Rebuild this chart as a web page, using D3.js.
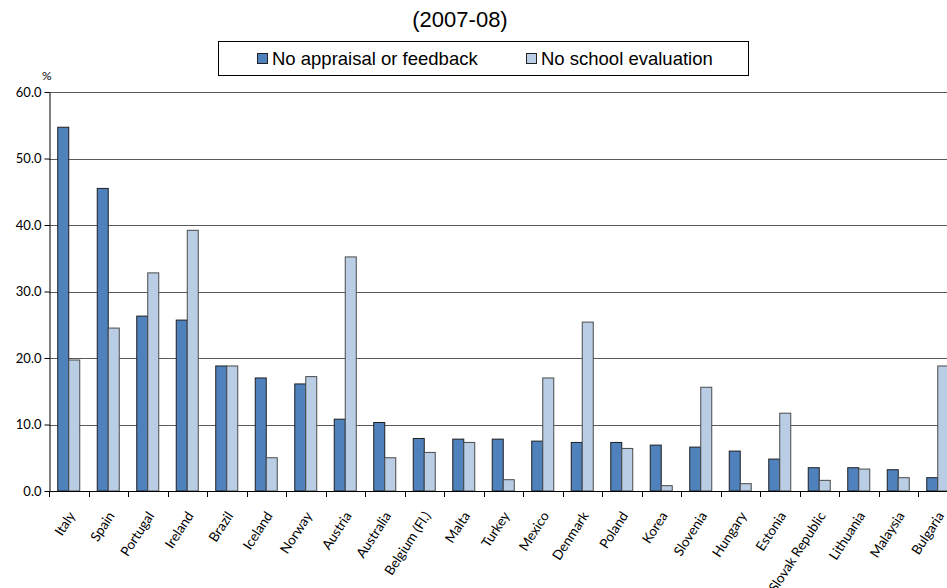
<!DOCTYPE html>
<html>
<head>
<meta charset="utf-8">
<script src="https://cdn.jsdelivr.net/npm/d3@7"></script>
<style>
  html, body { margin: 0; padding: 0; background: #fff; }
  svg { display: block; }
</style>
</head>
<body>
<svg id="chart" width="947" height="588"></svg>
<script>
// Countries, in chart order
const countries = ["Italy", "Spain", "Portugal", "Ireland", "Brazil", "Iceland", "Norway", "Austria",
  "Australia", "Belgium (Fl.)", "Malta", "Turkey", "Mexico", "Denmark", "Poland", "Korea",
  "Slovenia", "Hungary", "Estonia", "Slovak Republic", "Lithuania", "Malaysia", "Bulgaria"];

// Share of teachers (%) by situation
const noAppraisal = [54.7, 45.5, 26.3, 25.7, 18.8, 17.0, 16.1, 10.8, 10.3, 7.9, 7.8, 7.8, 7.5,
  7.3, 7.3, 6.9, 6.6, 6.0, 4.8, 3.5, 3.5, 3.2, 2.0];
const noSchoolEval = [19.7, 24.5, 32.8, 39.2, 18.8, 5.0, 17.2, 35.2, 5.0, 5.8, 7.3, 1.7, 17.0,
  25.4, 6.4, 0.8, 15.6, 1.1, 11.7, 1.6, 3.3, 2.0, 18.8];

const seriesNames = ["No appraisal or feedback", "No school evaluation"];
const seriesValues = [noAppraisal, noSchoolEval];
const seriesFill = ["#4F81BD", "#B9CDE5"];
const seriesStroke = ["#1f1f1f", "#4a4a4a"];

const yTicks = [0, 10, 20, 30, 40, 50, 60];
const title = "(2007-08)";
const unitLabel = "%";

const svg = d3.select("#chart");
const plotLeft = 49, step = 39.5, plotTop = 92, plotBottom = 491;
const plotRight = plotLeft + step * countries.length;
const axisFont = "Lato, 'Open Sans', sans-serif";

const x = d3.scaleBand().domain(countries).range([plotLeft, plotRight]).paddingInner(0).paddingOuter(0);
const xs = d3.scaleBand().domain(d3.range(seriesNames.length)).range([0, x.bandwidth()])
  .paddingInner(0).paddingOuter(0.795);
const y = d3.scaleLinear().domain([0, 60]).range([plotBottom, plotTop]);

// Title
svg.append("text").attr("x", 460).attr("y", 27).attr("text-anchor", "middle")
  .attr("font-family", "Liberation Sans, Arial, sans-serif").attr("font-size", 22)
  .attr("fill", "#000").text(title);

// Legend
const lg = svg.append("g");
lg.append("rect").attr("x", 218.5).attr("y", 41.5).attr("width", 530).attr("height", 34)
  .attr("fill", "#fff").attr("stroke", "#000").attr("stroke-width", 1);
const legendX = [257, 526];
seriesNames.forEach((name, i) => {
  lg.append("rect").attr("x", legendX[i] + 0.5).attr("y", 53.5).attr("width", 10).attr("height", 10)
    .attr("fill", seriesFill[i]).attr("stroke", "#222");
  lg.append("text").attr("x", legendX[i] + 15).attr("y", 65)
    .attr("font-family", "Liberation Sans, Arial, sans-serif").attr("font-size", 18.5)
    .attr("fill", "#000").text(name);
});

// Unit label
svg.append("text").attr("x", 42).attr("y", 80)
  .attr("font-family", axisFont).attr("font-size", 12)
  .attr("fill", "#000").text(unitLabel);

// Gridlines
svg.append("g").selectAll("line").data(yTicks.filter(d => d > 0)).join("line")
  .attr("x1", plotLeft).attr("x2", 947)
  .attr("y1", d => Math.round(y(d)) + 0.5).attr("y2", d => Math.round(y(d)) + 0.5)
  .attr("stroke", "#5a5a5a").attr("stroke-width", 1);

// Bars
countries.forEach((c, ci) => {
  seriesValues.forEach((vals, si) => {
    const v = vals[ci];
    svg.append("rect")
      .attr("x", x(c) + xs(si))
      .attr("y", y(v))
      .attr("width", xs.bandwidth())
      .attr("height", y(0) - y(v))
      .attr("fill", seriesFill[si])
      .attr("stroke", seriesStroke[si])
      .attr("stroke-width", 1);
  });
});

// Y axis
const yAxis = d3.axisLeft(y).tickValues(yTicks).tickSize(5).tickSizeOuter(0)
  .tickFormat(d3.format(".1f"));
const gy = svg.append("g").attr("transform", `translate(${plotLeft + 0.5},0)`).call(yAxis);
gy.select(".domain").attr("stroke", "#000");
gy.selectAll(".tick line").attr("stroke", "#000");
gy.selectAll(".tick text").attr("font-family", axisFont)
  .attr("font-size", 13).attr("fill", "#000").attr("x", -8);

// X axis: line at zero plus tick marks at category boundaries
svg.append("line").attr("x1", plotLeft).attr("x2", 947)
  .attr("y1", Math.round(y(0)) + 0.5).attr("y2", Math.round(y(0)) + 0.5)
  .attr("stroke", "#000");
const boundaries = countries.map(c => x(c)).concat([plotRight]);
svg.append("g").selectAll("line").data(boundaries).join("line")
  .attr("x1", d => Math.round(d) + 0.5).attr("x2", d => Math.round(d) + 0.5)
  .attr("y1", Math.round(y(0))).attr("y2", Math.round(y(0)) + 6)
  .attr("stroke", "#000");

// Category labels, rotated
svg.append("g").selectAll("text").data(countries).join("text")
  .attr("transform", d => `translate(${x(d) + x.bandwidth() / 2 + 3},${plotBottom + 22}) rotate(-57)`)
  .attr("text-anchor", "end").attr("dy", "0.35em")
  .attr("font-family", axisFont).attr("font-size", 13.5)
  .attr("fill", "#000").text(d => d);
</script>
</body>
</html>
